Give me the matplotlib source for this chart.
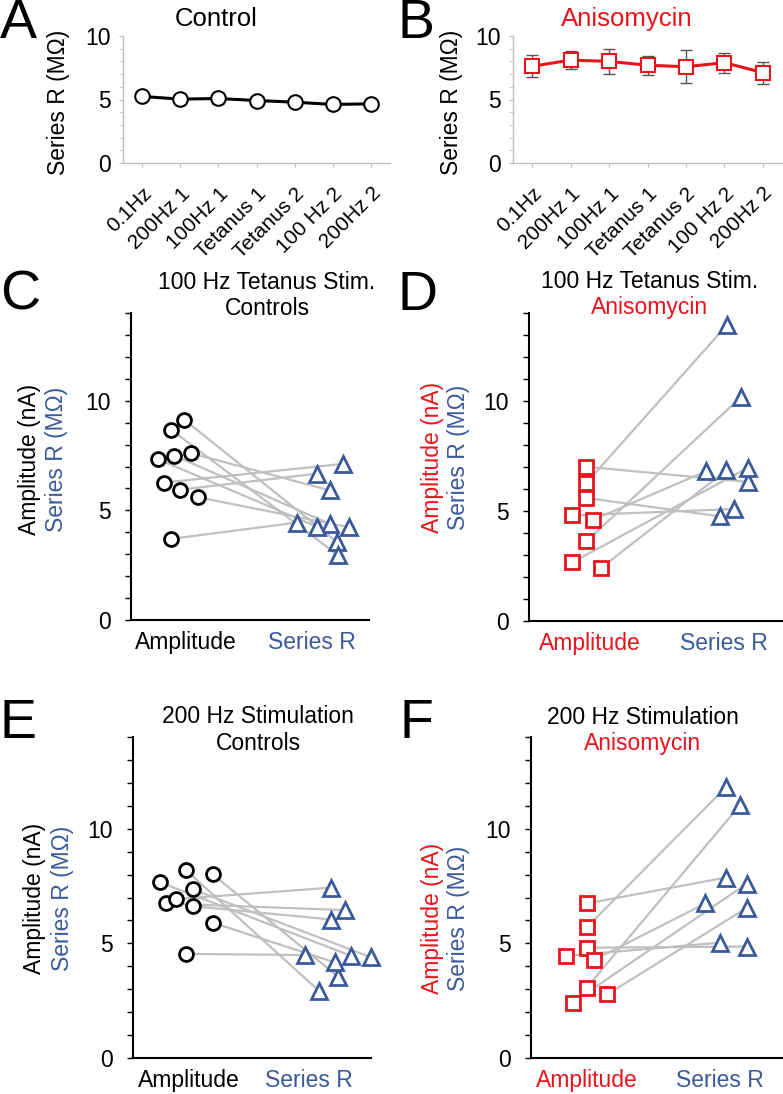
import matplotlib
matplotlib.use("Agg")
import matplotlib.pyplot as plt
from matplotlib.ticker import MultipleLocator

plt.rcParams['font.family'] = ['Liberation Sans', 'DejaVu Sans']

RED = '#e8141c'
BLUE = '#3b5a9a'
GRAY_LINE = '#c0c0c0'

# Panels A/B: series resistance over the protocol
stages = ['0.1Hz', '200Hz 1', '100Hz 1', 'Tetanus 1', 'Tetanus 2', '100 Hz 2', '200Hz 2']
ctrl_mean = [5.24, 5.03, 5.08, 4.92, 4.79, 4.61, 4.66]
ctrl_err = [0.15, 0.4, 0.45, 0.15, 0.12, 0.12, 0.12]
aniso_mean = [7.62, 8.10, 8.00, 7.70, 7.58, 7.90, 7.12]
aniso_err = [0.88, 0.72, 0.97, 0.76, 1.28, 0.79, 0.87]

# Panel C: 100 Hz tetanus, controls (amplitude[i] paired with series_r[i])
c_amp = [9.13, 8.68, 7.61, 7.50, 7.34, 6.27, 5.94, 5.60, 3.70]
c_amp_x = [0.99, 0.884, 1.04, 0.91, 0.778, 0.83, 0.955, 1.095, 0.884]
c_ser = [3.56, 2.95, 5.91, 4.38, 4.26, 7.12, 6.67, 4.23, 4.44]
c_ser_x = [2.20, 2.21, 2.145, 2.145, 2.04, 2.25, 2.04, 2.30, 1.88]

# Panel D: 100 Hz tetanus, anisomycin
d_amp = [7.01, 6.28, 5.59, 4.80, 4.60, 3.62, 2.67, 2.39]
d_amp_x = [0.975, 0.975, 0.975, 0.87, 1.025, 0.975, 0.87, 1.08]
d_ser = [6.32, 13.45, 4.76, 5.09, 6.81, 10.18, 6.96, 6.85]
d_ser_x = [2.18, 2.025, 1.97, 2.08, 1.87, 2.13, 2.18, 2.02]

# Panel E: 200 Hz stimulation, controls
e_amp = [7.67, 6.74, 6.93, 8.19, 7.36, 6.62, 8.01, 5.90, 4.54]
e_amp_x = [0.758, 0.811, 0.894, 0.978, 1.033, 1.033, 1.2, 1.2, 0.978]
e_ser = [4.45, 6.45, 7.43, 2.94, 4.39, 6.04, 3.55, 4.17, 4.49]
e_ser_x = [2.356, 2.30, 2.189, 2.083, 2.52, 2.189, 2.244, 2.217, 1.967]

# Panel F: 200 Hz stimulation, anisomycin
f_amp = [6.74, 5.70, 4.81, 4.45, 4.28, 3.07, 2.42, 2.78]
f_amp_x = [1.0, 1.0, 1.0, 0.843, 1.055, 1.0, 0.895, 1.155]
f_ser = [7.87, 11.81, 4.86, 5.03, 6.74, 11.04, 7.61, 6.55]
f_ser_x = [2.043, 2.043, 2.2, 1.995, 1.888, 2.15, 2.2, 2.2]

W, H = 783, 1094
fig = plt.figure(figsize=(W / 100, H / 100), dpi=100)


def add_axes_px(left, right, top, bottom):
    return fig.add_axes([left / W, 1 - bottom / H, (right - left) / W, (bottom - top) / H])


def text_px(x, y, s, **kw):
    fig.text(x / W, 1 - y / H, s, **kw)


def time_course(ax, means, errs, marker, color, msize):
    x = list(range(len(stages)))
    ax.errorbar(x, means, yerr=errs, fmt='none', ecolor='#555555', elinewidth=1,
                capsize=4, capthick=1, zorder=2)
    ax.plot(x, means, color=color, lw=2.2, marker=marker, ms=msize,
            mfc='white', mec=color, mew=1.5, zorder=3)
    ax.set_xlim(-0.5, 6.5)
    ax.set_ylim(0, 10)
    ax.set_xticks(x)
    ax.set_xticklabels(stages, rotation=45, ha='right', rotation_mode='anchor', fontsize=15)
    ax.yaxis.set_major_locator(MultipleLocator(5))
    ax.yaxis.set_minor_locator(MultipleLocator(1))
    ax.tick_params(axis='y', which='both', length=3, color='#bfbfbf', labelsize=16.5, pad=6)
    ax.tick_params(axis='x', length=3, color='#bfbfbf', pad=12)
    for s in ['top', 'right']:
        ax.spines[s].set_visible(False)
    for s in ['left', 'bottom']:
        ax.spines[s].set_color('#bfbfbf')
        ax.spines[s].set_linewidth(1)


def paired(ax, amp, amp_x, ser, ser_x, amp_marker, amp_color, xlim):
    for a, ax_, s, sx in zip(amp, amp_x, ser, ser_x):
        ax.plot([ax_, sx], [a, s], color=GRAY_LINE, lw=1.6, zorder=1)
    ax.plot(amp_x, amp, ls='none', marker=amp_marker, ms=10 if amp_marker == 'o' else 9.5,
            mfc='white', mec=amp_color, mew=2, zorder=3, clip_on=False)
    ax.plot(ser_x, ser, ls='none', marker='^', ms=11, mfc='white', mec=BLUE,
            mew=2, zorder=3, clip_on=False)
    ax.set_xlim(*xlim)
    ax.set_ylim(0, 14)
    ax.yaxis.set_major_locator(MultipleLocator(5))
    ax.yaxis.set_minor_locator(MultipleLocator(1))
    ax.tick_params(axis='y', which='both', length=4.5, width=1, labelsize=16.5, pad=10)
    ax.set_xticks([1, 2])
    ax.set_xticklabels(['Amplitude', 'Series R'], fontsize=16.5)
    ax.get_xticklabels()[0].set_color(amp_color)
    ax.get_xticklabels()[1].set_color(BLUE)
    ax.tick_params(axis='x', length=0, pad=8)
    for s in ['top', 'right']:
        ax.spines[s].set_visible(False)
    for s in ['left', 'bottom']:
        ax.spines[s].set_linewidth(1.5)


# A
axA = add_axes_px(123, 390, 36, 163)
time_course(axA, ctrl_mean, ctrl_err, 'o', 'black', 10.5)
# B
axB = add_axes_px(513, 782, 36, 163)
time_course(axB, aniso_mean, aniso_err, 's', RED, 10)

# C-F
axC = add_axes_px(131, 369, 313, 620)
paired(axC, c_amp, c_amp_x, c_ser, c_ser_x, 'o', 'black', (0.566, 2.455))
axD = add_axes_px(529, 782, 313, 621)
paired(axD, d_amp, d_amp_x, d_ser, d_ser_x, 's', RED, (0.545, 2.4375))
axE = add_axes_px(133, 371, 737, 1058)
paired(axE, e_amp, e_amp_x, e_ser, e_ser_x, 'o', 'black', (0.536, 2.519))
axF = add_axes_px(531, 782, 737, 1058)
paired(axF, f_amp, f_amp_x, f_ser, f_ser_x, 's', RED, (0.5825, 2.4625))

# panel letters
for letter, x, y in [('A', 0, 38), ('B', 398, 38), ('C', 0, 310), ('D', 398, 310),
                     ('E', 0, 738), ('F', 400, 738)]:
    text_px(x, y, letter, fontsize=40, va='baseline', ha='left')

# titles
text_px(216, 26, 'Control', fontsize=18.5, ha='center', va='baseline')
text_px(627, 26, 'Anisomycin', fontsize=18.5, ha='center', va='baseline', color=RED)
text_px(267, 289, '100 Hz Tetanus Stim.', fontsize=16.5, ha='center', va='baseline')
text_px(267, 315, 'Controls', fontsize=16.5, ha='center', va='baseline')
text_px(650, 288, '100 Hz Tetanus Stim.', fontsize=16.5, ha='center', va='baseline')
text_px(650, 314, 'Anisomycin', fontsize=16.5, ha='center', va='baseline', color=RED)
text_px(258, 723, '200 Hz Stimulation', fontsize=16.5, ha='center', va='baseline')
text_px(258, 750, 'Controls', fontsize=16.5, ha='center', va='baseline')
text_px(643, 724, '200 Hz Stimulation', fontsize=16.5, ha='center', va='baseline')
text_px(643, 750, 'Anisomycin', fontsize=16.5, ha='center', va='baseline', color=RED)

# y labels
text_px(58, 102, 'Series R (M\u03a9)', fontsize=16.5, rotation=90, ha='center', va='center')
text_px(452, 102, 'Series R (M\u03a9)', fontsize=16.5, rotation=90, ha='center', va='center')
for (x1, x2, yc, c1) in [(30, 57, 459, 'black'), (432, 458, 457, RED),
                          (35, 62, 898, 'black'), (432, 458, 918, RED)]:
    text_px(x1, yc, 'Amplitude (nA)', fontsize=16.5, rotation=90, ha='center', va='center', color=c1)
    text_px(x2, yc, 'Series R (M\u03a9)', fontsize=16.5, rotation=90, ha='center', va='center', color=BLUE)

fig.savefig('out.png', dpi=100)
